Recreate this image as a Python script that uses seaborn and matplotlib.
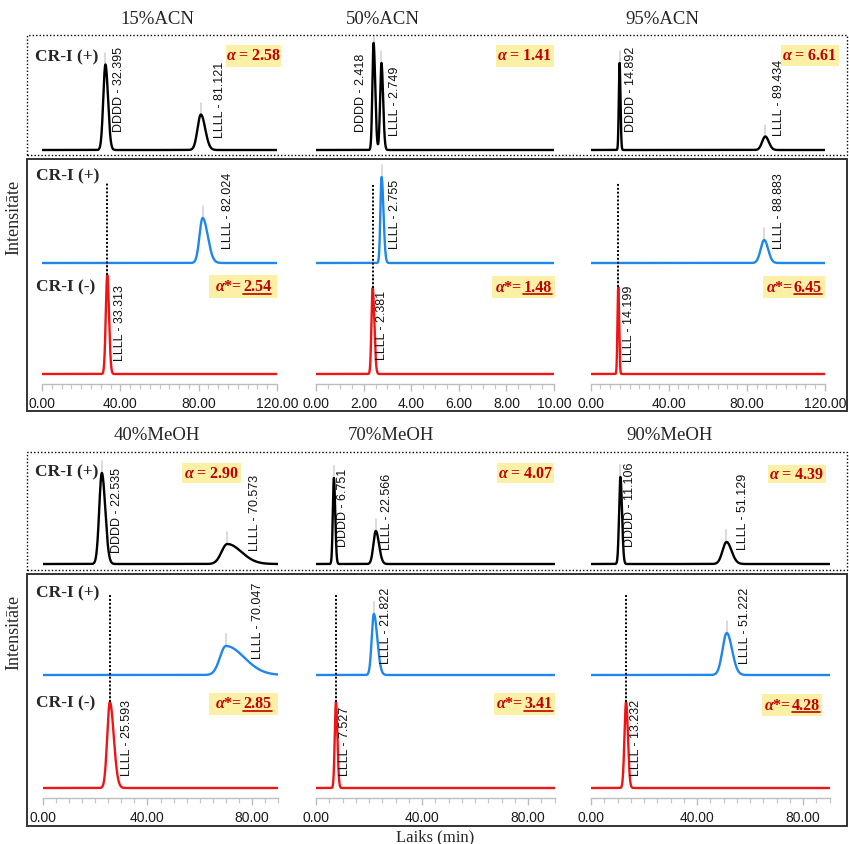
import numpy as np
import pandas as pd
import seaborn as sns
import matplotlib
matplotlib.use("Agg")
import matplotlib.pyplot as plt
from matplotlib.patches import Rectangle
from matplotlib.lines import Line2D
from matplotlib.ticker import MultipleLocator, FormatStrFormatter

sns.set_theme(style="white")
plt.rcParams["font.family"] = ["Liberation Sans", "DejaVu Sans"]
plt.rcParams["mathtext.fontset"] = "custom"
plt.rcParams["mathtext.it"] = "Liberation Serif:italic:bold"
plt.rcParams["mathtext.rm"] = "Liberation Serif:bold"
plt.rcParams["mathtext.bf"] = "Liberation Serif:bold"

# ---------------------------------------------------------------- data
conditions = ["15%ACN", "50%ACN", "95%ACN", "40%MeOH", "70%MeOH", "90%MeOH"]
x_max = [120, 10, 120, 90, 90, 90]
x_major = [40, 2, 40, 40, 40, 40]
x_minor = [5, 0.5, 5, 5, 5, 5]

# retention times (min)
rt_dddd_plus = [32.395, 2.418, 14.892, 22.535, 6.751, 11.106]   # racemate on CR-I(+)
rt_llll_plus_rac = [81.121, 2.749, 89.434, 70.573, 22.566, 51.129]
rt_llll_plus = [82.024, 2.755, 88.883, 70.047, 21.822, 51.222]  # LLLL on CR-I(+)
rt_llll_minus = [33.313, 2.381, 14.199, 25.593, 7.527, 13.232]  # LLLL on CR-I(-)

# selectivity factors
alpha = [2.58, 1.41, 6.61, 2.90, 4.07, 4.39]
alpha_star = [2.54, 1.48, 6.45, 2.85, 3.41, 4.28]

# peak heights (detector response, arbitrary units)
h_dddd_plus = [85.5, 107, 87, 91, 86, 87]
h_llll_plus_rac = [35.5, 87, 13.5, 20, 33, 22]
h_llll_plus = [45, 86, 23, 29, 61, 42]
h_llll_minus = [99, 86, 87, 86, 86, 86]

# peak widths: (front sigma, tail sigma) in min
w_dddd_plus = [(1.1, 1.3), (0.05, 0.07), (0.4, 0.45), (1.0, 1.3), (0.4, 0.5), (0.5, 0.6)]
w_llll_plus_rac = [(1.7, 2.2), (0.055, 0.07), (1.6, 1.8), (2.2, 5.4), (0.9, 1.2), (1.5, 1.9)]
w_llll_plus = [(1.6, 2.6), (0.05, 0.08), (1.8, 2.0), (2.3, 7.0), (0.8, 1.3), (1.6, 2.0)]
w_llll_minus = [(0.75, 0.9), (0.05, 0.07), (0.4, 0.45), (1.0, 1.5), (0.45, 0.55), (0.6, 0.7)]

# ---------------------------------------------------------------- layout (pixels)
W, H = 849, 844
fig = plt.figure(figsize=(W / 100, H / 100), dpi=100)

col_px = [(42, 277), (316, 554), (590.5, 825), (43, 278), (316, 554.5), (591, 829.5)]
sec_top = [35, 35, 35, 452, 452, 452]
sec_axis = [384, 384, 384, 798, 798, 798]
off_black = [234, 234, 234, 234, 234, 234]
off_blue = [121, 121, 121, 123, 123, 123]
off_red = [10, 10, 10, 10, 10, 10]
title_xy = [(157, 20), (383, 20), (662, 20), (157, 436), (391, 436), (670, 436)]

# label offsets (pixels from the peak's baseline point)
lab_dddd = [(13.6, 17.5), (-12.2, 17.5), (11, 17.5), (15, 11), (9.4, 17), (9.6, 17)]
lab_rac = [(18.7, 12.5), (13.3, 13.5), (13.7, 13.5), (27.6, 13), (11.7, 14), (16.8, 14)]
lab_plus = [(25, 14), (13, 14), (14.5, 14), (32, 16), (12.2, 11), (18.6, 11)]
lab_minus = [(12.8, 13), (9.6, 14), (10.5, 12), (17, 12), (8.7, 12), (10, 12)]

alpha_box = [(226, 45, 281, 67), (496, 45, 554, 67), (781, 45, 839, 66),
             (182, 463, 241, 483), (497, 463, 554, 483), (768, 465, 826, 483)]
astar_box = [(209, 275, 277, 298), (492, 276, 555, 298), (763, 276, 825, 298),
             (209, 693, 278, 715), (494, 693, 555, 715), (762, 694, 822, 716)]

BLACK, BLUE, RED = "#000000", "#1f87ea", "#f21414"
ALPHA_RED, BOX_YELLOW = "#c00000", "#fcf0a6"
SERIF = ["Liberation Serif", "DejaVu Serif"]


def peak(t, rt, h, widths):
    s1, s2 = widths
    s = np.where(t < rt, s1, s2)
    return h * np.exp(-0.5 * ((t - rt) / s) ** 2)


def fx(x):
    return x / W


def fy(y):
    return 1 - y / H


for i in range(6):
    x0, x1 = col_px[i]
    top, axis_y = sec_top[i], sec_axis[i]
    ax = fig.add_axes([fx(x0), fy(axis_y), (x1 - x0) / W, (axis_y - top) / H])
    ax.set_xlim(0, x_max[i])
    ax.set_ylim(0, axis_y - top)

    t = np.linspace(0, x_max[i], 6000)
    black = off_black[i] + peak(t, rt_dddd_plus[i], h_dddd_plus[i], w_dddd_plus[i]) \
        + peak(t, rt_llll_plus_rac[i], h_llll_plus_rac[i], w_llll_plus_rac[i])
    blue = off_blue[i] + peak(t, rt_llll_plus[i], h_llll_plus[i], w_llll_plus[i])
    red = off_red[i] + peak(t, rt_llll_minus[i], h_llll_minus[i], w_llll_minus[i])
    df = pd.concat([
        pd.DataFrame({"Laiks (min)": t, "signal": black, "trace": "rac (+)"}),
        pd.DataFrame({"Laiks (min)": t, "signal": blue, "trace": "LLLL (+)"}),
        pd.DataFrame({"Laiks (min)": t, "signal": red, "trace": "LLLL (-)"}),
    ])
    sns.lineplot(data=df, x="Laiks (min)", y="signal", hue="trace",
                 palette={"rac (+)": BLACK, "LLLL (+)": BLUE, "LLLL (-)": RED},
                 estimator=None, sort=False, legend=False, linewidth=1.7, ax=ax)

    # peak apex markers and retention-time labels
    peaks = [(rt_dddd_plus[i], off_black[i] + h_dddd_plus[i], "DDDD", lab_dddd[i], off_black[i]),
             (rt_llll_plus_rac[i], off_black[i] + h_llll_plus_rac[i], "LLLL", lab_rac[i], off_black[i]),
             (rt_llll_plus[i], off_blue[i] + h_llll_plus[i], "LLLL", lab_plus[i], off_blue[i]),
             (rt_llll_minus[i], off_red[i] + h_llll_minus[i], "LLLL", lab_minus[i], off_red[i])]
    for rt, apex, name, (dx, dy), base in peaks:
        ax.plot([rt, rt], [apex, apex + 12], color="#d4d4d4", lw=1.2, zorder=1)
        ax.annotate(f"{name} - {rt:.3f}", xy=(rt, base), xytext=(dx, dy),
                    textcoords="offset pixels", rotation=90, ha="center", va="bottom",
                    fontsize=9, color="#111111", family=["Liberation Sans"])

    # dotted reference line at the CR-I(-) retention time
    ax.plot([rt_llll_minus[i], rt_llll_minus[i]],
            [off_red[i] + h_llll_minus[i], off_blue[i] + 80],
            color="black", lw=1.4, ls=(0, (1, 1)), zorder=3)

    ax.set_xlabel("")
    ax.set_ylabel("")
    ax.set_yticks([])
    for side in ("top", "left", "right"):
        ax.spines[side].set_visible(False)
    ax.spines["bottom"].set_color("#bdbdbd")
    ax.spines["bottom"].set_linewidth(1.0)
    ax.xaxis.set_major_locator(MultipleLocator(x_major[i]))
    ax.xaxis.set_minor_locator(MultipleLocator(x_minor[i]))
    ax.xaxis.set_major_formatter(FormatStrFormatter("%.2f"))
    ax.tick_params(axis="x", which="major", bottom=True, direction="out", length=5,
                   width=1, color="#bdbdbd", pad=4.5, labelsize=10, labelcolor="#1a1a1a")
    ax.tick_params(axis="x", which="minor", bottom=True, direction="out", length=3.5,
                   width=0.9, color="#c8c8c8")
    ax.patch.set_alpha(0)

    tx, ty = title_xy[i]
    fig.text(fx(tx), fy(ty), conditions[i], ha="center", va="center",
             fontsize=13.5, family=SERIF)

# section frames
for (y0, y1) in [(35, 155), (452, 570)]:
    fig.add_artist(Rectangle((fx(27), fy(y1)), (847 - 27) / W, (y1 - y0) / H,
                             transform=fig.transFigure, fill=False, ec="black",
                             lw=1.0, ls=(0, (1, 1.5))))
for (y0, y1) in [(159, 411), (574, 826)]:
    fig.add_artist(Rectangle((fx(27), fy(y1)), (847 - 27) / W, (y1 - y0) / H,
                             transform=fig.transFigure, fill=False, ec="#333333", lw=1.4))

# column labels
for (x, y, s) in [(35, 57, "CR-I (+)"), (36, 176, "CR-I (+)"), (36, 287, "CR-I (-)"),
                  (35, 472, "CR-I (+)"), (36, 593, "CR-I (+)"), (36, 703, "CR-I (-)")]:
    fig.text(fx(x), fy(y), s, ha="left", va="center", fontsize=12.5,
             fontweight="bold", family=SERIF)

for y in (217, 632):
    fig.text(fx(14), fy(y), "Intensitāte", rotation=90, ha="center", va="center",
             fontsize=13, family=SERIF)
fig.text(fx(435), fy(837), "Laiks (min)", ha="center", va="center", fontsize=12, family=SERIF)

# selectivity boxes
renderer = fig.canvas.get_renderer()
for i in range(6):
    bx0, by0, bx1, by1 = alpha_box[i]
    fig.add_artist(Rectangle((fx(bx0), fy(by1)), (bx1 - bx0) / W, (by1 - by0) / H,
                             transform=fig.transFigure, fc=BOX_YELLOW, ec="none", zorder=2))
    fig.text(fx((bx0 + bx1) / 2), fy((by0 + by1) / 2 + 4.5), rf"$\alpha$ = {alpha[i]:.2f}",
             ha="center", va="baseline", fontsize=11.5, fontweight="bold",
             color=ALPHA_RED, family=SERIF, zorder=3)

    bx0, by0, bx1, by1 = astar_box[i]
    fig.add_artist(Rectangle((fx(bx0), fy(by1)), (bx1 - bx0) / W, (by1 - by0) / H,
                             transform=fig.transFigure, fc=BOX_YELLOW, ec="none", zorder=2))
    base_y = (by0 + by1) / 2 + 4.5
    pre = fig.text(0, fy(base_y), r"$\alpha$*= ", ha="left", va="baseline", fontsize=11.5,
                   fontweight="bold", color=ALPHA_RED, family=SERIF, zorder=3)
    num = fig.text(0, fy(base_y), f"{alpha_star[i]:.2f}", ha="left", va="baseline",
                   fontsize=11.5, fontweight="bold", color=ALPHA_RED, family=SERIF, zorder=3)
    wp = pre.get_window_extent(renderer).width
    wn = num.get_window_extent(renderer).width
    left = (bx0 + bx1) / 2 - (wp + wn) / 2
    pre.set_x(fx(left))
    num.set_x(fx(left + wp))
    fig.add_artist(Line2D([fx(left + wp), fx(left + wp + wn)], [fy(base_y + 2.5)] * 2,
                          transform=fig.transFigure, color=ALPHA_RED, lw=1.2, zorder=3))

fig.savefig("out.png", dpi=100, facecolor="white")
